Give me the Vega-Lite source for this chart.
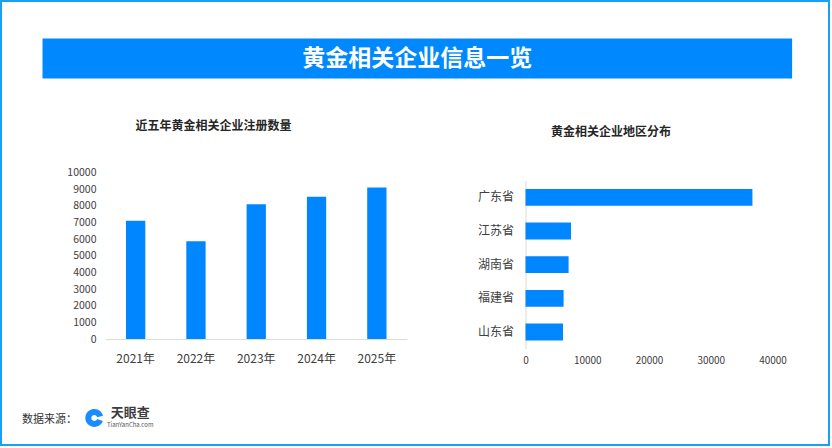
{
  "$schema": "https://vega.github.io/schema/vega-lite/v6.json",
  "padding": -1.5,
  "background": "white",
  "bounds": "flush",
  "spacing": 0,
  "config": {
    "font": "Noto Sans CJK SC",
    "view": {"stroke": null},
    "axis": {"labelFont": "Noto Sans CJK SC", "titleFont": "Noto Sans CJK SC"},
    "title": {"font": "Noto Sans CJK SC"}
  },
  "vconcat": [
    {
      "bounds": "flush",
      "spacing": 0,
      "vconcat": [
        {"width": 1, "height": 37.8, "data": {"values": []}, "mark": "point"},
        {
          "bounds": "flush",
          "spacing": 0,
          "hconcat": [
            {"width": 41.2, "height": 1, "data": {"values": []}, "mark": "point"},
            {
              "width": 749.6,
              "height": 40,
              "view": {"fill": "#0088FF", "stroke": null},
              "data": {"values": [{"t": "黄金相关企业信息一览"}]},
              "mark": {"type": "text", "fontSize": 23, "fontWeight": "bold", "color": "#FFFFFF", "font": "Noto Sans CJK SC"},
              "encoding": {"text": {"field": "t", "type": "nominal"}}
            }
          ]
        },
        {"width": 1, "height": 133.4, "data": {"values": []}, "mark": "point"},
        {
          "bounds": "flush",
          "spacing": 0,
          "hconcat": [
            {"width": 104.7, "height": 1, "data": {"values": []}, "mark": "point"},
            {
              "width": 301.5,
              "height": 166.6,
              "title": {"text": "近五年黄金相关企业注册数量", "fontSize": 12, "fontWeight": "bold", "color": "#262626", "anchor": "middle", "frame": "group", "dx": -42.8, "baseline": "middle", "offset": 29.5},
              "data": {"values": [
                {"year": "2021年", "count": 7100},
                {"year": "2022年", "count": 5880},
                {"year": "2023年", "count": 8100},
                {"year": "2024年", "count": 8540},
                {"year": "2025年", "count": 9100}
              ]},
              "mark": {"type": "bar", "color": "#0087FF"},
              "encoding": {
                "x": {"field": "year", "type": "nominal", "sort": null,
                      "scale": {"paddingInner": 0.68, "paddingOuter": 0.34},
                      "axis": {"title": null, "labelAngle": 0, "labelFontSize": 12, "labelColor": "#404040", "ticks": false, "domainColor": "#D9D9D9", "domainWidth": 1, "labelPadding": 14, "grid": false}},
                "y": {"field": "count", "type": "quantitative",
                      "scale": {"domain": [0, 10000], "nice": false},
                      "axis": {"title": null, "values": [0, 1000, 2000, 3000, 4000, 5000, 6000, 7000, 8000, 9000, 10000], "format": "d", "domain": false, "ticks": false, "grid": false, "labelFontSize": 10.5, "labelColor": "#404040", "labelPadding": 9.5}}
              }
            },
            {"width": 117.3, "height": 1, "data": {"values": []}, "mark": "point"},
            {
              "bounds": "flush",
              "spacing": 0,
              "vconcat": [
                {"width": 1, "height": 7.3, "data": {"values": []}, "mark": "point"},
                {
                  "width": 247,
                  "height": 168.3,
                  "title": {"text": "黄金相关企业地区分布", "fontSize": 12, "fontWeight": "bold", "color": "#262626", "anchor": "middle", "frame": "group", "dx": -38, "baseline": "middle", "offset": 37},
                  "data": {"values": [
                    {"province": "广东省", "count": 36750},
                    {"province": "江苏省", "count": 7370},
                    {"province": "湖南省", "count": 6980},
                    {"province": "福建省", "count": 6170},
                    {"province": "山东省", "count": 6070}
                  ]},
                  "mark": {"type": "bar", "color": "#0087FF"},
                  "encoding": {
                    "y": {"field": "province", "type": "nominal", "sort": null,
                          "scale": {"paddingInner": 0.5, "paddingOuter": 0.25},
                          "axis": {"title": null, "ticks": false, "domainColor": "#D9D9D9", "domainWidth": 1, "labelFontSize": 12, "labelColor": "#404040", "labelPadding": 12}},
                    "x": {"field": "count", "type": "quantitative",
                          "scale": {"domain": [0, 40000], "nice": false},
                          "axis": {"title": null, "values": [0, 10000, 20000, 30000, 40000], "format": "d", "domain": false, "ticks": false, "grid": false, "labelFontSize": 10, "labelColor": "#404040", "labelPadding": 7, "labelFlush": false}}
                  }
                }
              ]
            }
          ]
        },
        {"width": 1, "height": 236.3, "data": {"values": []}, "mark": "point"},
        {
          "bounds": "flush",
          "spacing": 0,
          "hconcat": [
            {"width": 20.7, "height": 1, "data": {"values": []}, "mark": "point"},
            {
              "width": 56,
              "height": 20,
              "data": {"values": [{"t": "数据来源："}]},
              "mark": {"type": "text", "fontSize": 11, "color": "#333333"},
              "encoding": {"text": {"field": "t", "type": "nominal"}}
            },
            {
              "width": 33.6,
              "height": 17,
              "data": {"values": [{"k": "logo"}]},
              "mark": {"type": "arc", "radius": 9, "radius2": 3, "theta": 1.9, "theta2": 7.6, "color": "#1A8CFF"},
              "encoding": {}
            },
            {
              "bounds": "flush",
              "spacing": 0,
              "vconcat": [
                {
                  "width": 37.4,
                  "height": 7,
                  "data": {"values": [{"t": "天眼查"}]},
                  "mark": {"type": "text", "fontSize": 13, "fontWeight": "bold", "color": "#3D3D3D"},
                  "encoding": {"text": {"field": "t", "type": "nominal"}}
                },
                {
                  "width": 37.4,
                  "height": 16,
                  "data": {"values": [{"t": "TianYanCha.com"}]},
                  "mark": {"type": "text", "fontSize": 6, "color": "#555555"},
                  "encoding": {"text": {"field": "t", "type": "nominal"}}
                }
              ]
            }
          ]
        }
      ]
    },
    {
      "width": 829,
      "height": 445,
      "view": {"stroke": "#18A0F5", "strokeWidth": 3, "fill": null},
      "data": {"values": []},
      "mark": "point"
    }
  ]
}
